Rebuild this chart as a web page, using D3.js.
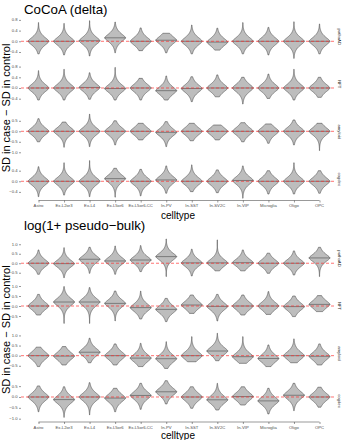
<!DOCTYPE html>
<html><head><meta charset="utf-8">
<script src="https://cdn.jsdelivr.net/npm/d3@7"></script>
<style>body{margin:0;background:#fff}svg{display:block;font-family:"Liberation Sans",Arial,Helvetica,sans-serif}</style>
</head><body><script>
// ---------------- data ----------------
const celltypes = ["Astro","Ex-L2or3","Ex-L4","Ex-L5or6","Ex-L5or6-CC","In-PV","In-SST","In-SV2C","In-VIP","Microglia","Oligo","OPC"];
const phenotypes = ["pathoAD","NFT","amyloid","cogdec"];

// CoCoA (delta): median, lower tail end, upper tail end, per phenotype row
const cocoaMed = [
  [0.0, 0.0, 0.02, 0.13, 0.0, 0.04, 0.0, -0.03, 0.0, 0.0, 0.0, 0.0],
  [0.0, 0.0, 0.02, -0.02, 0.0, -0.1, -0.02, 0.0, 0.0, 0.0, 0.0, 0.0],
  [0.0, 0.0, 0.0, 0.0, 0.0, -0.05, 0.0, 0.0, 0.0, 0.0, 0.0, 0.0],
  [0.0, 0.0, 0.0, 0.1, 0.0, 0.05, 0.0, 0.0, 0.03, 0.0, 0.0, 0.0]
];
const cocoaHi = [
  [0.70, 0.67, 0.77, 0.72, 0.50, 0.30, 0.61, 0.49, 0.70, 0.52, 0.73, 0.65],
  [0.65, 0.70, 0.57, 0.77, 0.36, 0.45, 0.42, 0.49, 0.40, 0.52, 0.70, 0.40],
  [0.60, 0.44, 0.82, 0.50, 0.38, 0.46, 0.38, 0.30, 0.41, 0.35, 0.54, 0.38],
  [0.55, 0.70, 0.78, 0.49, 0.45, 0.58, 0.62, 0.43, 0.58, 0.40, 0.70, 0.40]
];
const cocoaLo = [
  [-0.47, -0.51, -0.55, -0.43, -0.35, -0.43, -0.47, -0.33, -0.47, -0.51, -0.64, -0.47],
  [-0.45, -0.45, -0.42, -0.45, -0.45, -0.45, -0.51, -0.33, -0.60, -0.39, -0.45, -0.35],
  [-0.50, -0.76, -0.73, -0.65, -0.41, -0.73, -0.45, -0.41, -0.50, -0.57, -0.65, -0.92],
  [-0.58, -0.52, -0.58, -0.60, -0.55, -0.45, -0.39, -0.43, -0.64, -0.48, -0.48, -0.45]
];
const cocoaSpread = [0.24, 0.24, 0.3, 0.24];
const cocoaDomains = [[-0.606, 0.946], [-0.636, 0.916], [-1.01, 0.967], [-0.706, 0.86]];
const cocoaTicks = [[-0.4, 0, 0.4, 0.8], [-0.4, 0, 0.4, 0.8], [-1.0, -0.5, 0, 0.5], [-0.4, 0, 0.4]];

// log(1+ pseudo-bulk)
const pbMed = [
  [0.0, -0.02, 0.21, 0.12, 0.17, 0.35, 0.02, 0.02, 0.03, 0.0, 0.0, 0.28],
  [0.0, 0.2, 0.2, 0.13, -0.08, -0.17, 0.05, -0.02, 0.0, 0.0, -0.03, 0.08],
  [0.0, -0.02, 0.17, 0.0, -0.12, -0.15, 0.0, 0.23, -0.05, -0.14, 0.0, -0.03],
  [0.0, -0.12, 0.0, -0.05, 0.07, 0.24, 0.0, -0.13, 0.02, -0.18, 0.08, 0.0]
];
const pbHi = [
  [0.70, 0.82, 0.84, 0.91, 0.93, 1.28, 0.74, 1.23, 0.70, 0.53, 0.65, 0.84],
  [0.58, 0.97, 0.92, 0.75, 0.75, 0.38, 0.55, 0.58, 0.55, 0.72, 0.50, 0.52],
  [0.42, 0.45, 0.86, 0.58, 0.61, 0.69, 0.94, 1.11, 0.94, 0.53, 0.83, 0.58],
  [0.51, 0.47, 0.66, 0.40, 0.63, 0.75, 0.47, 0.63, 0.47, 0.40, 0.63, 0.45]
];
const pbLo = [
  [-0.58, -0.76, -0.53, -0.58, -0.44, -0.70, -0.67, -0.40, -0.40, -0.53, -0.62, -0.70],
  [-0.45, -0.87, -0.87, -0.75, -0.65, -0.78, -0.37, -0.75, -0.45, -0.42, -0.53, -0.28],
  [-0.54, -0.46, -0.35, -0.46, -0.54, -0.63, -0.30, -0.25, -0.38, -0.54, -0.35, -0.46],
  [-0.68, -0.94, -0.83, -0.68, -0.57, -0.32, -0.52, -0.60, -0.37, -0.78, -0.63, -0.47]
];
const pbSpread = [0.32, 0.32, 0.32, 0.3];
const pbDomains = [[-0.83, 1.33], [-1.025, 1.025], [-0.906, 1.12], [-1.13, 0.76]];
const pbTicks = [[-0.5, 0, 0.5, 1.0], [-0.5, 0, 0.5, 1.0], [-0.5, 0, 0.5, 1.0], [-1.0, -0.5, 0, 0.5]];

const yTitle = "SD in case \u2212 SD in control";
const xTitle = "celltype";

// ---------------- layout ----------------
const W = 345, H = 440;
const panelL = 21, panelR = 335;
const charts = [
  {title: "CoCoA (delta)", titleY: 14, tops: [16, 63.5, 111, 158.5], ph: 41.5,
   med: cocoaMed, lo: cocoaLo, hi: cocoaHi, spread: cocoaSpread, doms: cocoaDomains, ticks: cocoaTicks, xTitleY: 218.5},
  {title: "log(1+ pseudo\u2212bulk)", titleY: 230, tops: [238, 285.5, 333, 380.5], ph: 41,
   med: pbMed, lo: pbLo, hi: pbHi, spread: pbSpread, doms: pbDomains, ticks: pbTicks, xTitleY: 439}
];

const svg = d3.select("body").append("svg").attr("width", W).attr("height", H);
svg.append("rect").attr("width", W).attr("height", H).attr("fill", "#fff");

const x = d3.scalePoint().domain(celltypes).range([38.5, 319.5]);
const maxHalf = 10.5;
const fmt = d3.format(".1f");
const tiny = 4.2, k = 0.5;

// small text drawn scaled, to avoid the browser's minimum font size
function smallText(parent, tx, ty, str, opts) {
  const o = Object.assign({anchor: "middle", rot: 0, base: "auto", fill: "#4d4d4d"}, opts || {});
  parent.append("g").attr("transform", `translate(${tx},${ty}) rotate(${o.rot}) scale(${k})`)
    .append("text").attr("text-anchor", o.anchor).attr("dominant-baseline", o.base)
    .attr("font-size", tiny / k).attr("fill", o.fill).text(str);
}

charts.forEach(ch => {
  svg.append("text").attr("x", 24).attr("y", ch.titleY).attr("font-size", 13.3).attr("fill", "#000").text(ch.title);

  ch.tops.forEach((top, r) => {
    const y = d3.scaleLinear().domain(ch.doms[r]).range([top + ch.ph, top]);
    const g = svg.append("g");

    // y axis (ticks + labels)
    const ax = g.append("g").attr("transform", `translate(${panelL},0)`)
      .call(d3.axisLeft(y).tickValues(ch.ticks[r]).tickSize(2).tickFormat(""));
    ax.select(".domain").remove();
    ax.selectAll(".tick line").attr("stroke", "#333").attr("stroke-width", 0.5);
    ch.ticks[r].forEach(t => smallText(g, panelL - 3.5, y(t), fmt(t), {anchor: "end", base: "central"}));

    // violins
    const s = ch.spread[r];
    celltypes.forEach((ct, i) => {
      const m = ch.med[r][i], lo = ch.lo[r][i], hi = ch.hi[r][i];
      const n = 100;
      const vals = d3.range(n + 1).map(j => lo + (hi - lo) * j / n);
      const wf = v => Math.max(0.12, maxHalf * Math.exp(-Math.pow(Math.abs(v - m) / s, 1.5)));
      const cx = x(ct);
      const area = d3.area().y(v => y(v)).x0(v => cx - wf(v)).x1(v => cx + wf(v));
      g.append("path").attr("d", area(vals)).attr("fill", "#bdbdbd").attr("stroke", "#444").attr("stroke-width", 0.55);
      const wm = wf(m);
      g.append("line").attr("x1", cx - wm).attr("x2", cx + wm).attr("y1", y(m)).attr("y2", y(m))
        .attr("stroke", "#444").attr("stroke-width", 0.55);
    });

    // zero reference line
    g.append("line").attr("x1", panelL).attr("x2", panelR).attr("y1", y(0)).attr("y2", y(0))
      .attr("stroke", "#ff3030").attr("stroke-width", 0.8).attr("stroke-dasharray", "3,2").attr("opacity", 0.85);

    // strip label
    smallText(g, 339, top + ch.ph / 2, phenotypes[r], {rot: 90, base: "central", fill: "#1a1a1a"});

    // x axis on bottom row
    if (r === ch.tops.length - 1) {
      const bottom = top + ch.ph;
      const xa = svg.append("g").attr("transform", `translate(0,${bottom + 0.5})`)
        .call(d3.axisBottom(x).tickSize(2).tickFormat(""));
      xa.select(".domain").attr("d", `M${x.range()[0]},0H${x.range()[1]}`).attr("stroke", "#333").attr("stroke-width", 0.5);
      xa.selectAll(".tick line").attr("stroke", "#333").attr("stroke-width", 0.5);
      celltypes.forEach(ct => smallText(svg, x(ct), bottom + 5.5, ct, {base: "central"}));
      svg.append("text").attr("x", (panelL + panelR) / 2).attr("y", ch.xTitleY).attr("text-anchor", "middle")
        .attr("font-size", 10).attr("fill", "#000").text(xTitle);
    }
  });

  const midY = (ch.tops[0] + ch.tops[3] + ch.ph) / 2;
  svg.append("text").attr("transform", `translate(9.5,${midY}) rotate(-90)`).attr("text-anchor", "middle")
    .attr("font-size", 11).attr("fill", "#000").text(yTitle);
});
</script></body></html>
